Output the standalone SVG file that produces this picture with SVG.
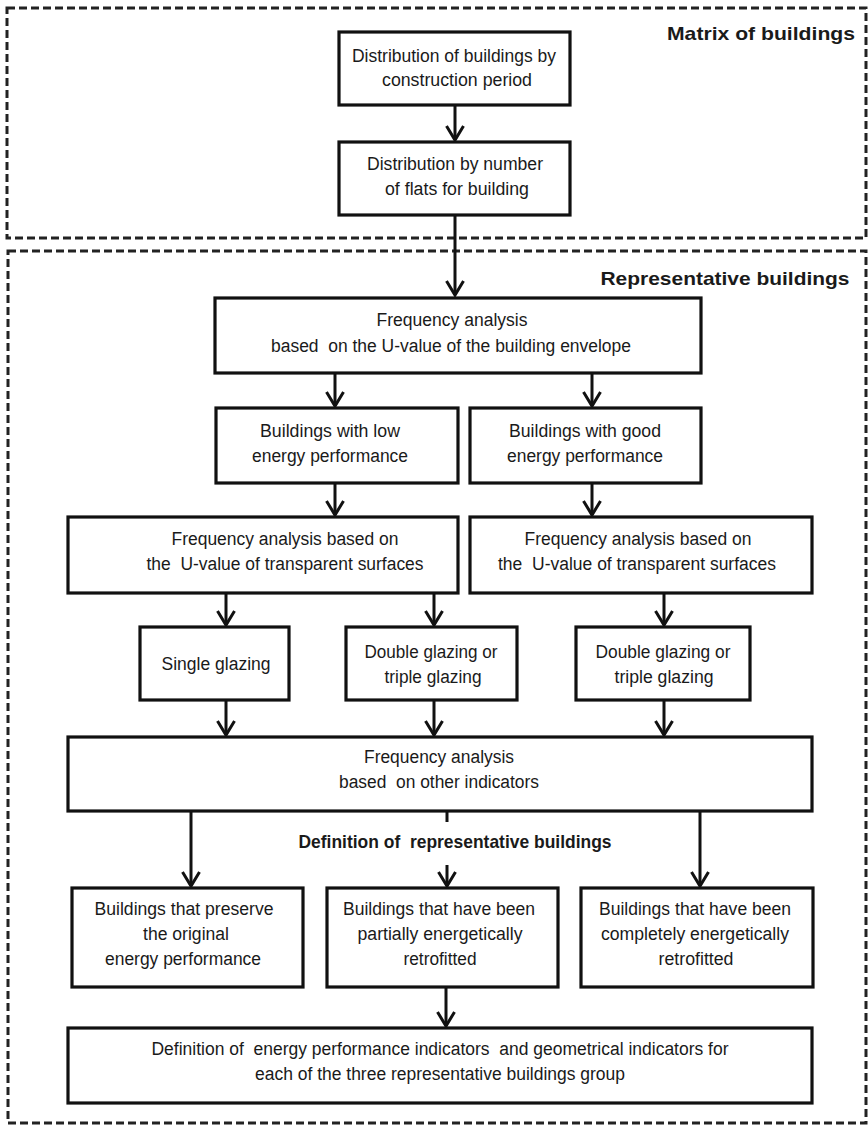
<svg xmlns="http://www.w3.org/2000/svg" width="868" height="1125" viewBox="0 0 868 1125">
<defs>
<style>
.box{fill:#fff;stroke:#111;stroke-width:3.2}
.dash{fill:none;stroke:#222;stroke-width:3;stroke-dasharray:8 4}
.t{font-family:"Liberation Sans",Arial,sans-serif;font-size:18px;fill:#1a1a1a;text-anchor:middle;white-space:pre}
.b{font-family:"Liberation Sans",Arial,sans-serif;font-size:19px;font-weight:bold;fill:#1a1a1a;text-anchor:middle;white-space:pre}
.c{fill:none;stroke:#111;stroke-width:3}
</style>
<marker id="ah" markerUnits="userSpaceOnUse" viewBox="-17 -11 20 22" markerWidth="20" markerHeight="22" refX="0" refY="0" orient="auto">
<path d="M-14,-8.5 L0,0 L-14,8.5" fill="none" stroke="#111" stroke-width="3"/>
</marker>
</defs>
<rect width="868" height="1125" fill="#fff"/>

<g id="group-matrix">
<rect class="dash" x="7" y="8" width="859" height="230"/>
<text class="b" x="761" y="40" textLength="188" lengthAdjust="spacingAndGlyphs">Matrix of buildings</text>
</g>
<g id="group-representative">
<rect class="dash" x="8" y="251" width="858" height="872"/>
<text class="b" x="725" y="285" textLength="249" lengthAdjust="spacingAndGlyphs">Representative buildings</text>
<text class="b" x="455" y="848" textLength="313" lengthAdjust="spacingAndGlyphs">Definition of  representative buildings</text>
</g>

<g id="connectors">
<line class="c" x1="455" y1="105" x2="455" y2="140" marker-end="url(#ah)"/>
<line class="c" x1="455" y1="215" x2="455" y2="295" marker-end="url(#ah)"/>
<line class="c" x1="335" y1="373" x2="335" y2="406" marker-end="url(#ah)"/>
<line class="c" x1="592" y1="373" x2="592" y2="406" marker-end="url(#ah)"/>
<line class="c" x1="335" y1="483" x2="335" y2="515" marker-end="url(#ah)"/>
<line class="c" x1="592" y1="483" x2="592" y2="515" marker-end="url(#ah)"/>
<line class="c" x1="226" y1="593" x2="226" y2="625" marker-end="url(#ah)"/>
<line class="c" x1="434" y1="593" x2="434" y2="625" marker-end="url(#ah)"/>
<line class="c" x1="664" y1="593" x2="664" y2="625" marker-end="url(#ah)"/>
<line class="c" x1="226" y1="700" x2="226" y2="735" marker-end="url(#ah)"/>
<line class="c" x1="434" y1="700" x2="434" y2="735" marker-end="url(#ah)"/>
<line class="c" x1="664" y1="700" x2="664" y2="735" marker-end="url(#ah)"/>
<line class="c" x1="191" y1="811" x2="191" y2="886" marker-end="url(#ah)"/>
<line class="c" x1="700" y1="811" x2="700" y2="886" marker-end="url(#ah)"/>
<line class="c" x1="447" y1="811" x2="447" y2="822"/>
<line class="c" x1="447" y1="865" x2="447" y2="886" marker-end="url(#ah)"/>
<line class="c" x1="446" y1="987" x2="446" y2="1026" marker-end="url(#ah)"/>
</g>

<g id="n1">
<rect class="box" x="339" y="32" width="231" height="73"/>
<text class="t" x="454" y="62" textLength="204" lengthAdjust="spacingAndGlyphs">Distribution of buildings by</text>
<text class="t" x="457" y="86" textLength="150" lengthAdjust="spacingAndGlyphs">construction period</text>
</g>
<g id="n2">
<rect class="box" x="339" y="142" width="231" height="73"/>
<text class="t" x="455" y="170" textLength="176" lengthAdjust="spacingAndGlyphs">Distribution by number</text>
<text class="t" x="457" y="195" textLength="144" lengthAdjust="spacingAndGlyphs">of flats for building</text>
</g>
<g id="n3">
<rect class="box" x="215" y="298" width="486" height="75"/>
<text class="t" x="452" y="326" textLength="151" lengthAdjust="spacingAndGlyphs">Frequency analysis</text>
<text class="t" x="451" y="352" textLength="360" lengthAdjust="spacingAndGlyphs">based  on the U-value of the building envelope</text>
</g>
<g id="n4">
<rect class="box" x="216" y="408" width="242" height="75"/>
<text class="t" x="330" y="437" textLength="140" lengthAdjust="spacingAndGlyphs">Buildings with low</text>
<text class="t" x="330" y="462" textLength="156" lengthAdjust="spacingAndGlyphs">energy performance</text>
</g>
<g id="n5">
<rect class="box" x="470" y="408" width="231" height="75"/>
<text class="t" x="585" y="437" textLength="152" lengthAdjust="spacingAndGlyphs">Buildings with good</text>
<text class="t" x="585" y="462" textLength="156" lengthAdjust="spacingAndGlyphs">energy performance</text>
</g>
<g id="n6">
<rect class="box" x="68" y="517" width="390" height="76"/>
<text class="t" x="285" y="545" textLength="227" lengthAdjust="spacingAndGlyphs">Frequency analysis based on</text>
<text class="t" x="285" y="570" textLength="277" lengthAdjust="spacingAndGlyphs">the  U-value of transparent surfaces</text>
</g>
<g id="n7">
<rect class="box" x="470" y="517" width="342" height="76"/>
<text class="t" x="638" y="545" textLength="227" lengthAdjust="spacingAndGlyphs">Frequency analysis based on</text>
<text class="t" x="637" y="570" textLength="278" lengthAdjust="spacingAndGlyphs">the  U-value of transparent surfaces</text>
</g>
<g id="n8">
<rect class="box" x="140" y="627" width="149" height="73"/>
<text class="t" x="216" y="670" textLength="109" lengthAdjust="spacingAndGlyphs">Single glazing</text>
</g>
<g id="n9">
<rect class="box" x="346" y="627" width="171" height="73"/>
<text class="t" x="431" y="658" textLength="133" lengthAdjust="spacingAndGlyphs">Double glazing or</text>
<text class="t" x="433" y="683" textLength="97" lengthAdjust="spacingAndGlyphs">triple glazing</text>
</g>
<g id="n10">
<rect class="box" x="576" y="627" width="174" height="73"/>
<text class="t" x="663" y="658" textLength="135" lengthAdjust="spacingAndGlyphs">Double glazing or</text>
<text class="t" x="664" y="683" textLength="99" lengthAdjust="spacingAndGlyphs">triple glazing</text>
</g>
<g id="n11">
<rect class="box" x="68" y="737" width="744" height="74"/>
<text class="t" x="439" y="763" textLength="150" lengthAdjust="spacingAndGlyphs">Frequency analysis</text>
<text class="t" x="439" y="788" textLength="200" lengthAdjust="spacingAndGlyphs">based  on other indicators</text>
</g>
<g id="n12">
<rect class="box" x="72" y="888" width="231" height="99"/>
<text class="t" x="184" y="915" textLength="179" lengthAdjust="spacingAndGlyphs">Buildings that preserve</text>
<text class="t" x="186" y="940" textLength="86" lengthAdjust="spacingAndGlyphs">the original</text>
<text class="t" x="183" y="965" textLength="156" lengthAdjust="spacingAndGlyphs">energy performance</text>
</g>
<g id="n13">
<rect class="box" x="327" y="888" width="231" height="99"/>
<text class="t" x="439" y="915" textLength="192" lengthAdjust="spacingAndGlyphs">Buildings that have been</text>
<text class="t" x="440" y="940" textLength="165" lengthAdjust="spacingAndGlyphs">partially energetically</text>
<text class="t" x="440" y="965" textLength="73" lengthAdjust="spacingAndGlyphs">retrofitted</text>
</g>
<g id="n14">
<rect class="box" x="581" y="888" width="232" height="99"/>
<text class="t" x="695" y="915" textLength="192" lengthAdjust="spacingAndGlyphs">Buildings that have been</text>
<text class="t" x="695" y="940" textLength="188" lengthAdjust="spacingAndGlyphs">completely energetically</text>
<text class="t" x="696" y="965" textLength="75" lengthAdjust="spacingAndGlyphs">retrofitted</text>
</g>
<g id="n15">
<rect class="box" x="68" y="1028" width="744" height="75"/>
<text class="t" x="440" y="1055" textLength="577" lengthAdjust="spacingAndGlyphs">Definition of  energy performance indicators  and geometrical indicators for</text>
<text class="t" x="440" y="1080" textLength="370" lengthAdjust="spacingAndGlyphs">each of the three representative buildings group</text>
</g>
</svg>
